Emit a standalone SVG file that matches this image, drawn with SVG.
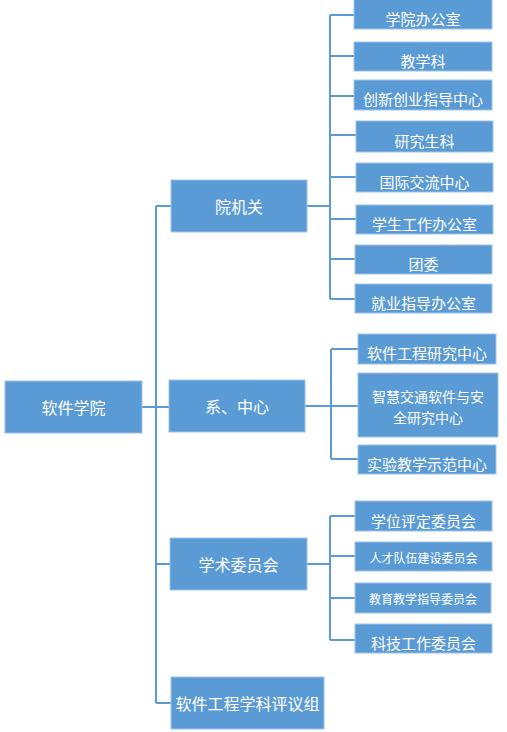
<svg xmlns="http://www.w3.org/2000/svg" width="507" height="732" viewBox="0 0 507 732">
<style>
.box{fill:#5B9BD5;stroke:#9DC3E6;stroke-width:1}
.t{fill:#FFFFFF;font-family:"Noto Sans CJK SC","Noto Sans",sans-serif;text-anchor:middle;dominant-baseline:central}
.l1{font-size:16px}
.l2{font-size:15px}
.l3{font-size:12px}
.c{fill:none;stroke:#5B9BD5;stroke-width:2}
</style>
<rect width="507" height="732" fill="#FFFFFF"/>
<g id="connectors" class="c">
<path d="M142,407H169M156,206V703M156,206H171M156,564H170M156,703H171"/>
<path d="M307,206H330M330,15V299M330,15H354M330,56H354M330,96H354M330,135H356M330,177H356M330,219H356M330,259H355M330,299H355"/>
<path d="M305,406H358M331,349V459M331,349H358M331,459H358"/>
<path d="M307,564H330M330,516V640M330,516H355M330,556H355M330,598H355M330,640H355"/>
</g>
<g id="root"><rect class="box" x="5" y="381" width="137" height="52"/><text class="t l1" x="73.5" y="407">软件学院</text></g>
<g id="yuanjiguan"><rect class="box" x="171" y="180" width="136" height="52"/><text class="t l1" x="239" y="206">院机关</text></g>
<g id="xizhongxin"><rect class="box" x="169" y="380" width="136" height="52"/><text class="t l1" x="237" y="406">系、中心</text></g>
<g id="xueshu"><rect class="box" x="170" y="538" width="137" height="52"/><text class="t l1" x="238.5" y="564">学术委员会</text></g>
<g id="pingyizu"><rect class="box" x="171" y="677" width="153" height="52"/><text class="t l1" x="247.5" y="703">软件工程学科评议组</text></g>
<g id="n1"><rect class="box" x="354" y="-1" width="138" height="30"/><text class="t l2" x="423" y="18">学院办公室</text></g>
<g id="n2"><rect class="box" x="354" y="42" width="138" height="29"/><text class="t l2" x="423" y="60">教学科</text></g>
<g id="n3"><rect class="box" x="354" y="80" width="138" height="30"/><text class="t l2" x="423" y="98">创新创业指导中心</text></g>
<g id="n4"><rect class="box" x="356" y="121" width="137" height="31"/><text class="t l2" x="424.5" y="140">研究生科</text></g>
<g id="n5"><rect class="box" x="356" y="163" width="137" height="29"/><text class="t l2" x="424.5" y="181">国际交流中心</text></g>
<g id="n6"><rect class="box" x="356" y="205" width="137" height="29"/><text class="t l2" x="424.5" y="223">学生工作办公室</text></g>
<g id="n7"><rect class="box" x="355" y="245" width="137" height="29"/><text class="t l2" x="423.5" y="263">团委</text></g>
<g id="n8"><rect class="box" x="355" y="284" width="137" height="29"/><text class="t l2" x="423.5" y="302">就业指导办公室</text></g>
<g id="n9"><rect class="box" x="358" y="334" width="138" height="30"/><text class="t l2" x="427" y="352">软件工程研究中心</text></g>
<g id="n10"><rect class="box" x="358" y="373" width="140" height="64"/><text class="t" style="font-size:14px" x="428" y="396">智慧交通软件与安</text><text class="t" style="font-size:14px" x="428" y="417">全研究中心</text></g>
<g id="n11"><rect class="box" x="358" y="445" width="138" height="29"/><text class="t l2" x="427" y="463">实验教学示范中心</text></g>
<g id="n12"><rect class="box" x="355" y="501" width="137" height="30"/><text class="t l2" x="423.5" y="520">学位评定委员会</text></g>
<g id="n13"><rect class="box" x="355" y="542" width="137" height="29"/><text class="t l3" x="423.5" y="557">人才队伍建设委员会</text></g>
<g id="n14"><rect class="box" x="355" y="583" width="136" height="30"/><text class="t l3" x="423" y="598">教育教学指导委员会</text></g>
<g id="n15"><rect class="box" x="355" y="624" width="137" height="29"/><text class="t l2" x="423.5" y="642">科技工作委员会</text></g>
</svg>
